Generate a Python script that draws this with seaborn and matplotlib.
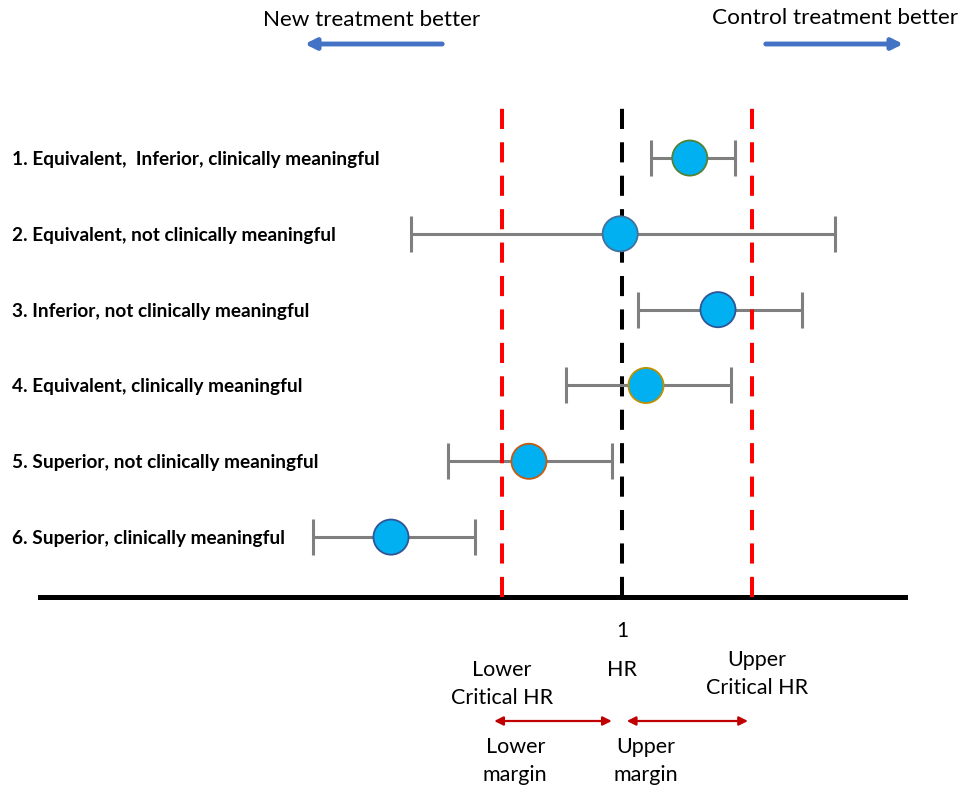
import matplotlib
matplotlib.use("Agg")
import matplotlib.pyplot as plt
import matplotlib.transforms as mtransforms
import numpy as np
import pandas as pd
import seaborn as sns

# scenario labels, hazard ratios and confidence limits
labels = [
    "1. Equivalent,  Inferior, clinically meaningful",
    "2. Equivalent, not clinically meaningful",
    "3. Inferior, not clinically meaningful",
    "4. Equivalent, clinically meaningful",
    "5. Superior, not clinically meaningful",
    "6. Superior, clinically meaningful",
]
hr = [1.113, 0.997, 1.16, 1.04, 0.845, 0.615]
ci_low = [1.048, 0.648, 1.027, 0.907, 0.71, 0.485]
ci_high = [1.188, 1.355, 1.30, 1.182, 0.983, 0.755]
lower_critical = 0.80
upper_critical = 1.217
null_hr = 1.0

edge_colors = ["#538135", "#41719C", "#2F5597", "#BF9000", "#C55A11", "#2F5597"]

df = pd.DataFrame({"label": labels, "hr": hr, "lo": ci_low, "hi": ci_high})
df["row"] = np.arange(1, len(df) + 1)

sns.set_style("white")
plt.rcParams["font.family"] = ["Lato", "DejaVu Sans"]
plt.rcParams["text.color"] = "black"
plt.rcParams["xtick.color"] = "black"
plt.rcParams["ytick.color"] = "black"

W, H = 962, 791
fig = plt.figure(figsize=(W / 100, H / 100), dpi=100)
ax = fig.add_axes([40 / W, 194 / H, 865 / W, 500 / H])

# confidence intervals
ax.errorbar(df["hr"], df["row"],
            xerr=[df["hr"] - df["lo"], df["hi"] - df["hr"]],
            fmt="none", ecolor="#7F7F7F", elinewidth=2.2,
            capsize=13, capthick=2.2, zorder=3)

# reference lines
ax.axvline(lower_critical, color="#FF0000", lw=2.9, ls=(0, (5, 3.3)), zorder=4, clip_on=False)
ax.axvline(upper_critical, color="#FF0000", lw=2.9, ls=(0, (5, 3.3)), zorder=4, clip_on=False)
ax.axvline(null_hr, color="black", lw=2.9, ls=(0, (5, 3.3)), zorder=2, clip_on=False)

# point estimates
sns.scatterplot(data=df, x="hr", y="row", ax=ax, s=640, color="#00B0F0",
                edgecolor=edge_colors, linewidth=1.3, zorder=5, legend=False)

ax.set_xlim(0.03, 1.4717)
ax.set_ylim(6.79, 0.195)
ax.set_xlabel("")
ax.set_ylabel("")
ax.set_xticks([null_hr], ["1"])
ax.tick_params(axis="x", length=0, pad=17, labelsize=15)
ax.set_yticks(df["row"], df["label"], fontweight="bold", fontsize=13.7)
ax.tick_params(axis="y", length=0, pad=20.2)
for t in ax.get_yticklabels():
    t.set_ha("left")

for side in ["top", "left", "right"]:
    ax.spines[side].set_visible(False)
ax.spines["bottom"].set_linewidth(3.6)
ax.spines["bottom"].set_color("black")
ax.spines["bottom"].set_zorder(1)

# direction arrows at top
fig.text(372 / W, 1 - 20 / H, "New treatment better", ha="center", va="center", fontsize=16.2)
fig.text(835 / W, 1 - 18 / H, "Control treatment better", ha="center", va="center", fontsize=16.2)
blue = dict(arrowstyle="-|>", color="#4472C4", lw=3.5, mutation_scale=16)
fig.add_artist(plt.Annotation("", xy=(302 / W, 1 - 44 / H), xytext=(445 / W, 1 - 44 / H),
                              xycoords="figure fraction", arrowprops=blue))
fig.add_artist(plt.Annotation("", xy=(906 / W, 1 - 44 / H), xytext=(763 / W, 1 - 44 / H),
                              xycoords="figure fraction", arrowprops=blue))

# labels under the axis
trans = mtransforms.blended_transform_factory(ax.transData, fig.transFigure)
big = dict(transform=trans, ha="center", va="center", fontsize=15.5, linespacing=1.55)
ax.text(lower_critical, 1 - 684 / H, "Lower\nCritical HR", **big)
ax.text(null_hr, 1 - 670 / H, "HR", **big)
ax.text(upper_critical + 0.008, 1 - 674 / H, "Upper\nCritical HR", **big)
ax.text(0.822, 1 - 761 / H, "Lower\nmargin", **big)
ax.text(1.04, 1 - 761 / H, "Upper\nmargin", **big)

red = dict(arrowstyle="<|-|>", color="#C00000", lw=1.6, mutation_scale=13, shrinkA=0, shrinkB=0)
ax.annotate("", xy=(lower_critical - 0.013, 1 - 721 / H), xytext=(null_hr - 0.017, 1 - 721 / H),
            xycoords=trans, textcoords=trans, arrowprops=red)
ax.annotate("", xy=(null_hr + 0.008, 1 - 721 / H), xytext=(upper_critical - 0.007, 1 - 721 / H),
            xycoords=trans, textcoords=trans, arrowprops=red)

fig.savefig("out.png", dpi=100)
